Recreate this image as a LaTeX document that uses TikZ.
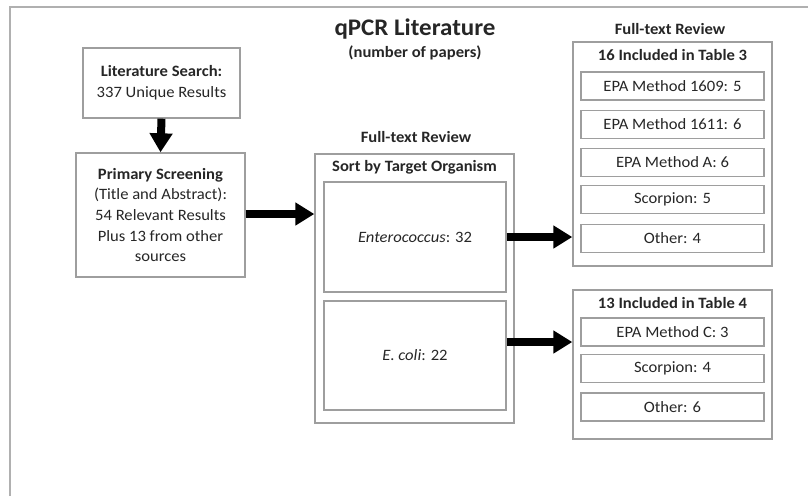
\documentclass[tikz,border=0pt]{standalone}
\usepackage{fontspec}
\setmainfont{Carlito}[FakeStretch=1.05]
\usetikzlibrary{arrows.meta,calc}
\definecolor{boxline}{HTML}{9E9E9E}
\definecolor{txt}{HTML}{262626}
\definecolor{frame}{HTML}{B0B0B0}
\tikzset{
  base/.style={text=txt, font=\fontsize{15.8}{20.7}\selectfont, inner sep=0pt, align=center},
  box/.style={base, draw=boxline, line width=1.4pt, rectangle},
  head/.style={base, font=\fontsize{15.8}{20.7}\selectfont\bfseries},
  bigarrow/.style={draw=black, line width=8pt, -{Triangle[length=19pt,width=22pt]}, shorten >=0pt},
}
\begin{document}
\begin{tikzpicture}[x=1pt,y=-1pt]
\useasboundingbox (0,0) rectangle (808,496);
% outer frame (cropped)
\draw[frame, line width=1.5pt] (10,496) -- (10,7) -- (808,7);

% title
\node[base, font=\fontsize{23.8}{28}\selectfont\bfseries] (title) at (415,29) {qPCR Literature};
\node[head] (subtitle) at (415,53) {(number of papers)};

% left column
\node[box, minimum width=157pt, minimum height=70pt] (lit) at (161.5,83)
  {\textbf{Literature Search:}\\337 Unique Results};
\node[box, minimum width=169pt, minimum height=124pt] (prim) at (160.5,215)
  {\textbf{Primary Screening}\\(Title and Abstract):\\54 Relevant Results\\Plus 13 from other\\sources};

% middle column
\node[head] (ftr1) at (416,137) {Full-text Review};
\node[box, minimum width=199pt, minimum height=269pt] (sort) at (414.5,288.5) {};
\node[head] (sorthead) at (414.5,167) {Sort by Target Organism};
\node[box, minimum width=182pt, minimum height=110pt] (ent) at (415,237) {\textit{Enterococcus}: 32};
\node[box, minimum width=182pt, minimum height=109pt] (ecoli) at (415,355.5) {\textit{E. coli}: 22};

% right column top
\node[head] (ftr2) at (670,29) {Full-text Review};
\node[box, minimum width=199pt, minimum height=224pt] (t3) at (672.5,154) {};
\node[head] (t3head) at (672.5,55) {16 Included in Table 3};
\tikzset{inner/.style={box, minimum width=183pt, minimum height=28pt}}
\node[inner] (m1609) at (672.5,86) {EPA Method 1609: 5};
\node[inner] (m1611) at (672.5,124.5) {EPA Method 1611: 6};
\node[inner] (mA) at (672.5,162.5) {EPA Method A: 6};
\node[inner] (sc5) at (672.5,199.5) {Scorpion: 5};
\node[inner] (ot4) at (672.5,238.5) {Other: 4};

% right column bottom
\node[box, minimum width=199pt, minimum height=149pt] (t4) at (672.5,364.5) {};
\node[head] (t4head) at (672.5,303) {13 Included in Table 4};
\node[inner] (mC) at (672.5,332) {EPA Method C: 3};
\node[inner] (sc4) at (672.5,368.5) {Scorpion: 4};
\node[inner] (ot6) at (672.5,407) {Other: 6};

% arrows
\draw[bigarrow] (lit.south) -- (prim.north);
\draw[bigarrow] ([yshift=1pt]prim.east) -- ([yshift=1pt]prim.east -| sort.west);
\draw[bigarrow] (ent.east) -- (ent.east -| t3.west);
\draw[bigarrow] ([yshift=13.5pt]ecoli.east) -- ([yshift=13.5pt]ecoli.east -| t4.west);
\end{tikzpicture}
\end{document}
